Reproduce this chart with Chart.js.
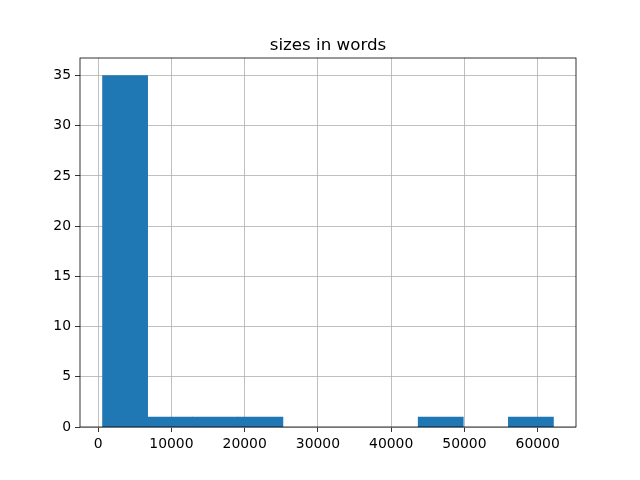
<!DOCTYPE html>
<html>
<head>
<meta charset="utf-8">
<script src="https://cdn.jsdelivr.net/npm/chart.js@4"></script>
<style>
  html, body { margin: 0; padding: 0; background: #fff; }
</style>
</head>
<body>
<canvas id="histChart" width="640" height="480"></canvas>
<script>
const title = 'sizes in words'
const binEdges = [600, 6755, 12910, 19065, 25220, 31375, 37530, 43685, 49840, 55995, 62150]
const counts = [35, 1, 1, 1, 0, 0, 0, 1, 0, 1]
const xTicks = [0, 10000, 20000, 30000, 40000, 50000, 60000]
const yTicks = [0, 5, 10, 15, 20, 25, 30, 35]

const font = { family: 'DejaVu Sans', size: 13.9 }

// bars sit at the bin centres, width comes from the spacing
const points = counts.map((c, i) => ({ x: (binEdges[i] + binEdges[i + 1]) / 2, y: c }))

const span = binEdges[binEdges.length - 1] - binEdges[0]

const framePlugin = {
  id: 'frame',
  afterDraw(chart) {
    const { ctx, chartArea: a } = chart
    ctx.save()
    ctx.strokeStyle = '#000'
    ctx.lineWidth = 0.8
    ctx.strokeRect(a.left, a.top, a.right - a.left, a.bottom - a.top)
    ctx.fillStyle = '#000'
    ctx.font = '16.7px "DejaVu Sans"'
    ctx.textAlign = 'center'
    ctx.textBaseline = 'alphabetic'
    ctx.fillText(title, (a.left + a.right) / 2, a.top - 8)
    ctx.restore()
  }
}

new Chart(document.getElementById('histChart').getContext('2d'), {
  type: 'bar',
  data: {
    datasets: [{
      data: points,
      // empty bins should leave no trace on the baseline
      backgroundColor: c => (c.raw && c.raw.y === 0) ? 'rgba(0,0,0,0)' : '#1f77b4',
      borderWidth: 0,
      barPercentage: 1,
      categoryPercentage: 1
    }]
  },
  options: {
    responsive: false,
    animation: false,
    devicePixelRatio: 1,
    layout: { padding: { left: 0, right: 64, top: 58, bottom: 0 } },
    plugins: {
      legend: { display: false },
      tooltip: { enabled: false }
    },
    scales: {
      x: {
        type: 'linear',
        z: 1,
        offset: false,
        min: binEdges[0] - 0.05 * span,
        max: binEdges[binEdges.length - 1] + 0.05 * span,
        afterBuildTicks: s => { s.ticks = xTicks.map(v => ({ value: v })) },
        afterFit: s => { s.height = 53 },
        grid: { offset: false, color: '#b0b0b0', lineWidth: 0.8, tickColor: '#000', tickLength: 5 },
        border: { display: false },
        ticks: { color: '#000', font, padding: 4, maxRotation: 0, callback: v => String(v) }
      },
      y: {
        z: 1,
        min: 0,
        max: 36.75,
        afterBuildTicks: s => { s.ticks = yTicks.map(v => ({ value: v })) },
        afterFit: s => { s.width = 80 },
        grid: { color: '#b0b0b0', lineWidth: 0.8, tickColor: '#000', tickLength: 5 },
        border: { display: false },
        ticks: { color: '#000', font, padding: 4, callback: v => String(v) }
      }
    }
  },
  plugins: [framePlugin]
})
</script>
</body>
</html>
